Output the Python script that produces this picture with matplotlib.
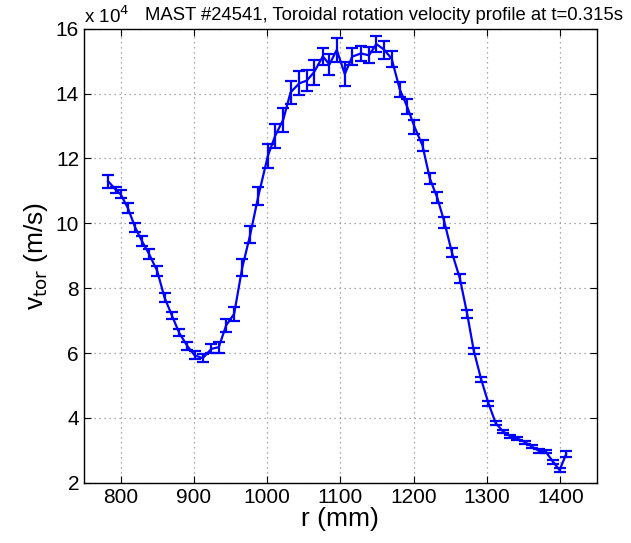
import numpy as np
import matplotlib
matplotlib.use("Agg")
import matplotlib.pyplot as plt

plt.rcParams['font.family'] = ['Liberation Sans', 'DejaVu Sans']

# radius (mm)
r = [783, 794, 800, 810, 820, 829, 839, 850, 860, 870,
     880, 891, 901, 912, 924, 934, 944, 955, 966, 977,
     988, 1001, 1011, 1022, 1032, 1044, 1054, 1064, 1076, 1085,
     1095, 1106, 1116, 1128, 1139, 1149, 1160, 1170, 1181, 1191,
     1201, 1212, 1222, 1232, 1242, 1252, 1263, 1273, 1282, 1292,
     1302, 1312, 1322, 1332, 1341, 1352, 1361, 1371, 1380, 1390,
     1399, 1408]

# toroidal velocity (x 1e4 m/s)
v_tor = [11.30, 11.02, 10.90, 10.47, 9.87, 9.46, 9.05, 8.53, 7.71, 7.16,
         6.62, 6.22, 5.93, 5.84, 6.13, 6.18, 6.85, 7.21, 8.63, 9.66,
         10.84, 12.08, 12.70, 13.20, 14.04, 14.32, 14.40, 14.66, 15.15, 14.90,
         15.35, 14.60, 15.14, 15.24, 15.18, 15.53, 15.35, 15.07, 14.13, 13.60,
         12.98, 12.40, 11.38, 10.80, 10.03, 9.11, 8.30, 7.20, 6.07, 5.19,
         4.45, 3.83, 3.58, 3.43, 3.37, 3.25, 3.12, 2.98, 2.96, 2.65,
         2.39, 2.88]

# error bar half-widths (x 1e4 m/s)
v_err = [0.20, 0.10, 0.13, 0.15, 0.15, 0.15, 0.15, 0.14, 0.13, 0.12,
         0.11, 0.13, 0.12, 0.12, 0.14, 0.17, 0.19, 0.22, 0.26, 0.26,
         0.28, 0.37, 0.37, 0.37, 0.36, 0.37, 0.33, 0.38, 0.27, 0.32,
         0.38, 0.38, 0.26, 0.23, 0.25, 0.26, 0.27, 0.26, 0.22, 0.22,
         0.22, 0.18, 0.16, 0.17, 0.17, 0.14, 0.13, 0.13, 0.09, 0.08,
         0.07, 0.06, 0.05, 0.05, 0.05, 0.05, 0.05, 0.05, 0.05, 0.06,
         0.06, 0.09]

fig = plt.figure(figsize=(6.31, 5.43), dpi=100)
ax = fig.add_axes([0.133, 0.111, 0.813, 0.836])

ax.errorbar(r, v_tor, yerr=v_err, color='b', lw=1.6, elinewidth=1.6,
            capsize=4, capthick=1.6)

ax.set_xlim(750, 1450)
ax.set_ylim(2, 16)
ax.set_xticks(np.arange(800, 1401, 100))
ax.set_yticks(np.arange(2, 17, 2))
ax.grid(True, linestyle=(0, (1, 3)), color='#909090', linewidth=0.9)
ax.tick_params(direction='in', top=True, right=True, labelsize=15, length=5)
for s in ax.spines.values():
    s.set_linewidth(1.0)

ax.set_xlabel('r (mm)', fontsize=19, labelpad=0)
ax.set_ylabel(r'v$_{\rm tor}$ (m/s)', fontsize=19, labelpad=4)

ax.text(0.0, 1.005, r'x 10$^4$', transform=ax.transAxes, fontsize=13.5,
        ha='left', va='bottom')
ax.text(0.119, 1.01, 'MAST #24541, Toroidal rotation velocity profile at t=0.315s',
        transform=ax.transAxes, fontsize=13.3, ha='left', va='bottom')

fig.savefig('out.png', dpi=100)
